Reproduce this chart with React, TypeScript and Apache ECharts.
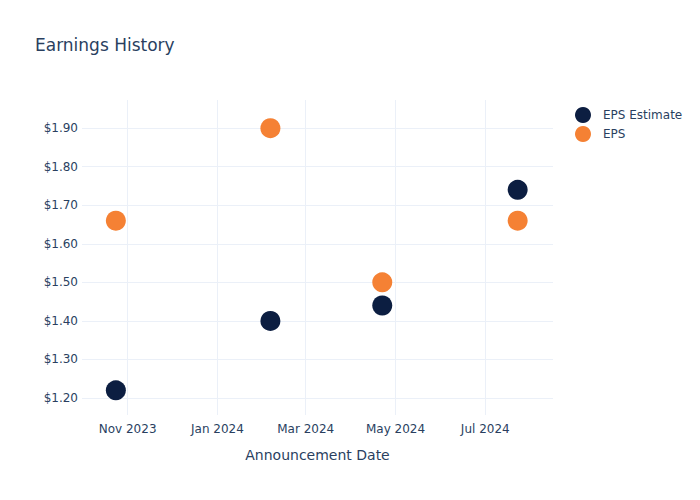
import React, { useEffect, useRef } from "react";
import * as echarts from "echarts";

const dates = ["2023-10-24", "2024-02-06", "2024-04-22", "2024-07-23"];
const epsEstimate = [1.22, 1.40, 1.44, 1.74];
const eps = [1.66, 1.90, 1.50, 1.66];
const xTicks = ["2023-11-01", "2024-01-01", "2024-03-01", "2024-05-01", "2024-07-01"];
const yTicks = [1.2, 1.3, 1.4, 1.5, 1.6, 1.7, 1.8, 1.9];
const monthNames = ["Jan", "Feb", "Mar", "Apr", "May", "Jun", "Jul", "Aug", "Sep", "Oct", "Nov", "Dec"];

const ts = (d: string) => Date.UTC(+d.slice(0, 4), +d.slice(5, 7) - 1, +d.slice(8, 10));

export default function App() {
  const ref = useRef<HTMLDivElement>(null);
  useEffect(() => {
    const chart = echarts.init(ref.current!, null, { renderer: "svg" });
    const textColor = "#2a3f5f";
    const gridColor = "#ebf0f8";
    const font = "'DejaVu Sans', sans-serif";
    chart.setOption({
      animation: false,
      backgroundColor: "#ffffff",
      textStyle: { fontFamily: font },
      title: {
        text: "Earnings History",
        left: 30,
        top: 31,
        textStyle: { fontSize: 17, fontWeight: "normal", color: textColor, fontFamily: font },
      },
      legend: {
        orient: "vertical",
        left: 570,
        top: 102,
        itemWidth: 30,
        itemHeight: 16,
        itemGap: 3,
        icon: "circle",
        textStyle: { fontSize: 12, color: textColor, fontFamily: font },
        data: ["EPS Estimate", "EPS"],
      },
      grid: { left: 82, right: 147, top: 100, bottom: 85, containLabel: false },
      xAxis: {
        type: "value",
        min: ts("2023-10-01"),
        max: ts("2024-08-16"),
        name: "Announcement Date",
        nameLocation: "middle",
        nameGap: 33,
        nameTextStyle: { fontSize: 14, color: textColor, fontFamily: font },
        axisLine: { show: false },
        axisTick: { show: false, customValues: xTicks.map(ts) },
        axisLabel: {
          customValues: xTicks.map(ts),
          fontSize: 12,
          color: textColor,
          fontFamily: font,
          margin: 8,
          formatter: (v: number) => {
            const d = new Date(v);
            return monthNames[d.getUTCMonth()] + " " + d.getUTCFullYear();
          },
        },
        splitLine: { show: false },
      },
      yAxis: {
        type: "value",
        min: 1.156,
        max: 1.973,
        axisLine: { show: false },
        axisTick: { show: false, customValues: yTicks },
        axisLabel: {
          customValues: yTicks,
          fontSize: 12,
          color: textColor,
          fontFamily: font,
          margin: 4,
          formatter: (v: number) => "$" + v.toFixed(2),
        },
        splitLine: { show: false },
      },
      series: [
        {
          name: "grid-x",
          type: "line",
          data: [],
          silent: true,
          z: 0,
          markLine: {
            silent: true,
            z: 0,
            symbol: "none",
            label: { show: false },
            lineStyle: { color: gridColor, type: "solid", width: 1 },
            data: xTicks.map((t) => ({ xAxis: ts(t) })),
          },
        },
        {
          name: "grid-y",
          type: "line",
          data: [],
          silent: true,
          z: 0,
          markLine: {
            silent: true,
            z: 0,
            symbol: "none",
            label: { show: false },
            lineStyle: { color: gridColor, type: "solid", width: 1 },
            data: yTicks.map((v) => ({ yAxis: v })),
          },
        },
        {
          name: "EPS Estimate",
          type: "scatter",
          symbolSize: 20,
          itemStyle: { color: "#0c1e41", opacity: 1 },
          data: dates.map((d, i) => [ts(d), epsEstimate[i]]),
          z: 3,
        },
        {
          name: "EPS",
          type: "scatter",
          symbolSize: 20,
          itemStyle: { color: "#f58134", opacity: 1 },
          data: dates.map((d, i) => [ts(d), eps[i]]),
          z: 4,
        },
      ],
    });
    return () => chart.dispose();
  }, []);
  return <div ref={ref} style={{ width: 700, height: 500, margin: -8 }} />;
}
